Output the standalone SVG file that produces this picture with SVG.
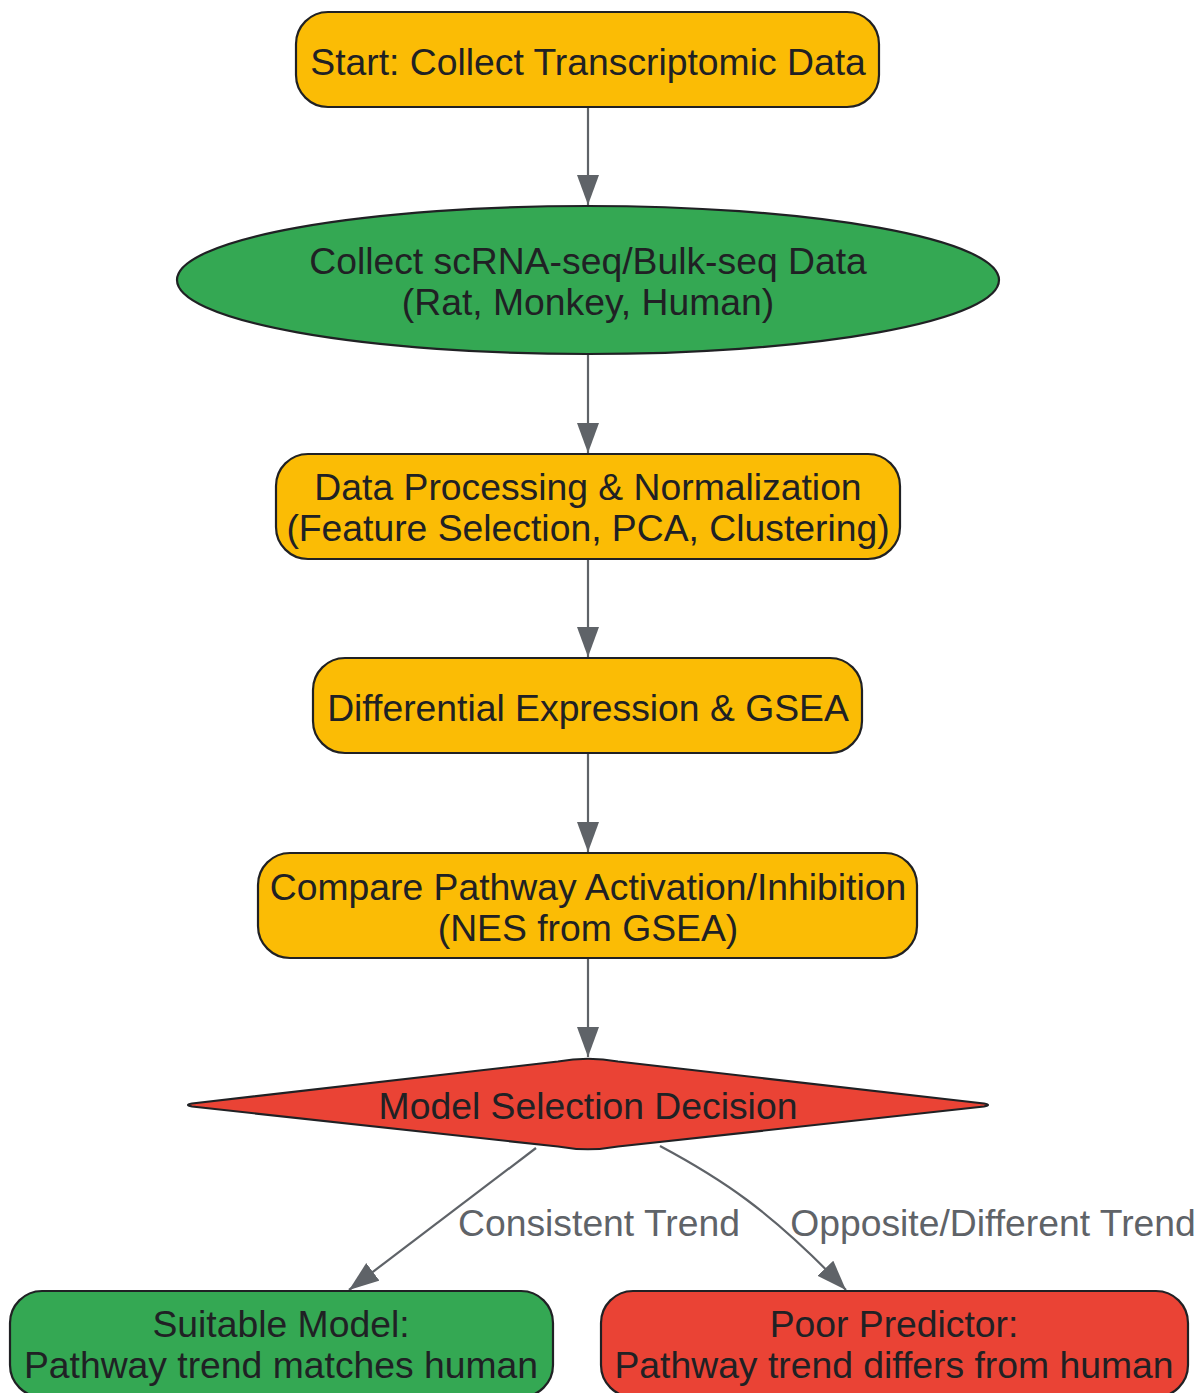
<svg xmlns="http://www.w3.org/2000/svg" width="1199" height="1393" viewBox="0 0 1199 1393">
<style>
.n{stroke:#202124;stroke-width:2.2}
.y{fill:#FBBC05}
.g{fill:#34A853}
.r{fill:#EA4335}
.t{font-family:"Liberation Sans",Arial,sans-serif;font-size:37.3px;fill:#202124;text-anchor:middle}
.l{font-family:"Liberation Sans",Arial,sans-serif;font-size:37.3px;fill:#5f6368;text-anchor:middle}
.e{fill:none;stroke:#5f6368;stroke-width:2.2}
</style>
<defs>
<marker id="ah" markerUnits="userSpaceOnUse" markerWidth="32" markerHeight="24" refX="30" refY="11" orient="auto">
<path d="M0,0 L30,11 L0,22 Z" fill="#5f6368"/>
</marker>
</defs>
<rect width="1199" height="1393" fill="#ffffff"/>
<g id="connectors">
<path class="e" d="M588,107 L588,205" marker-end="url(#ah)"/>
<path class="e" d="M588,354 L588,453" marker-end="url(#ah)"/>
<path class="e" d="M588,559 L588,657" marker-end="url(#ah)"/>
<path class="e" d="M588,753 L588,852" marker-end="url(#ah)"/>
<path class="e" d="M588,958 L588,1057" marker-end="url(#ah)"/>
<path class="e" d="M536,1148 L349,1290" marker-end="url(#ah)"/>
<path class="e" d="M660,1146 C720,1178 770,1210 846,1290" marker-end="url(#ah)"/>
<text class="l" x="599" y="1236">Consistent Trend</text>
<text class="l" x="993" y="1236">Opposite/Different Trend</text>
</g>
<g id="start">
<rect class="n y" x="296" y="12" width="583" height="95" rx="32"/>
<text class="t" x="588" y="75">Start: Collect Transcriptomic Data</text>
</g>
<g id="collect">
<ellipse class="n g" cx="588" cy="280" rx="411" ry="74"/>
<text class="t" x="588" y="274">Collect scRNA-seq/Bulk-seq Data</text>
<text class="t" x="588" y="315">(Rat, Monkey, Human)</text>
</g>
<g id="processing">
<rect class="n y" x="276" y="454" width="624" height="105" rx="32"/>
<text class="t" x="588" y="500">Data Processing &amp; Normalization</text>
<text class="t" x="588" y="541">(Feature Selection, PCA, Clustering)</text>
</g>
<g id="de">
<rect class="n y" x="313" y="658" width="549" height="95" rx="32"/>
<text class="t" x="588" y="721">Differential Expression &amp; GSEA</text>
</g>
<g id="compare">
<rect class="n y" x="258" y="853" width="659" height="105" rx="32"/>
<text class="t" x="588" y="900">Compare Pathway Activation/Inhibition</text>
<text class="t" x="588" y="941">(NES from GSEA)</text>
</g>
<g id="decision">
<path class="n r" stroke-linejoin="round" d="M192,1103.5 L558,1061.5 Q588,1056 618,1061.5 L984,1103.5 Q992,1105 984,1106.5 L618,1146.5 Q588,1152 558,1146.5 L192,1106.5 Q184,1105 192,1103.5 Z"/>
<text class="t" x="588" y="1119">Model Selection Decision</text>
</g>
<g id="suitable">
<rect class="n g" x="10" y="1291" width="543" height="106" rx="32"/>
<text class="t" x="281" y="1337">Suitable Model:</text>
<text class="t" x="281" y="1378">Pathway trend matches human</text>
</g>
<g id="poor">
<rect class="n r" x="601" y="1291" width="587" height="106" rx="32"/>
<text class="t" x="894" y="1337">Poor Predictor:</text>
<text class="t" x="894" y="1378">Pathway trend differs from human</text>
</g>
</svg>
